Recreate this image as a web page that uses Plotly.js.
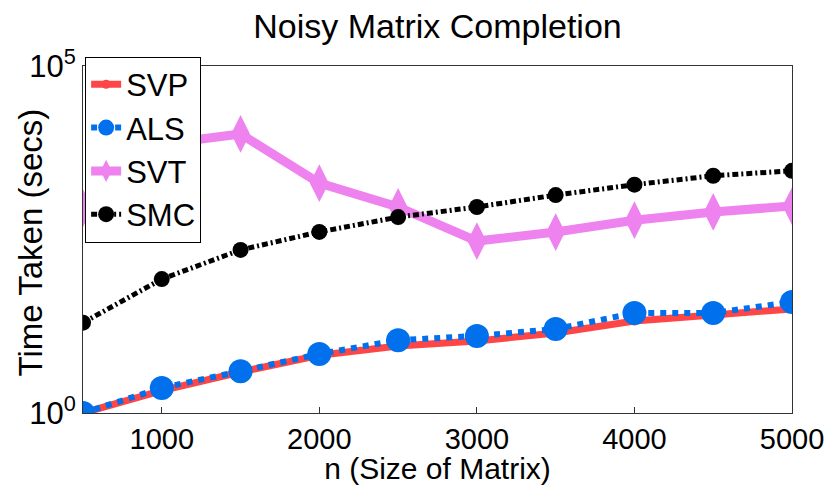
<!DOCTYPE html>
<html>
<head>
<meta charset="utf-8">
<script src="https://cdn.plot.ly/plotly-3.0.1.min.js"></script>
<style>html,body{margin:0;padding:0;background:#fff;}#chart{width:834px;height:485px;}</style>
</head>
<body>
<div id="chart"></div>
<script>
const n = [500, 1000, 1500, 2000, 2500, 3000, 3500, 4000, 4500, 5000];
const svp = [1, 2.1, 3.9, 6.8, 9.2, 10.9, 14.2, 21.2, 25.8, 31.6];
const als = [1, 2.3, 4.0, 7.1, 11.2, 12.9, 16.2, 27.6, 27.6, 39.8];
const svt = [895, 7500, 10500, 2050, 930, 300, 405, 600, 790, 960];
const smc = [20, 85, 224, 407, 665, 930, 1380, 1950, 2620, 3090];
const xTicks = [1000, 2000, 3000, 4000, 5000];
const yTickVals = [1, 100000];
const yTickText = ['10<sup>0</sup>', '10<sup>5</sup>'];

const font = 'Liberation Sans, Arial, sans-serif';
const traces = [
  {x: n, y: svp, name: 'SVP', mode: 'lines+markers', legendgroup: 'a',
   line: {color: '#FF4646', width: 7}, marker: {symbol: 'circle', size: 9, color: '#FF4646'}},
  {x: n, y: als, name: 'ALS', mode: 'lines+markers', legendgroup: 'b',
   line: {color: '#0070EC', width: 6, dash: 'dot'}, marker: {symbol: 'circle', size: 24, color: '#0070EC'}},
  {x: n, y: svt, name: 'SVT', mode: 'lines+markers', legendgroup: 'c',
   line: {color: '#EE82EE', width: 9}, marker: {symbol: 'diamond-tall', size: 27, color: '#EE82EE'}},
  {x: n, y: smc, name: 'SMC', mode: 'lines+markers', legendgroup: 'd',
   line: {color: '#000000', width: 5, dash: '6px,3px,2px,3px'}, marker: {symbol: 'circle', size: 16, color: '#000000'}}
];
const layout = {
  width: 834, height: 485,
  margin: {l: 83, r: 42, t: 66, b: 72},
  paper_bgcolor: '#fff', plot_bgcolor: '#fff',
  font: {family: font, color: '#000', size: 30},
  title: {text: 'Noisy Matrix Completion', font: {family: font, size: 34, color: '#000'},
          x: 0.5, xref: 'paper', xanchor: 'center', y: 1 - 26/485, yref: 'container', yanchor: 'middle'},
  xaxis: {range: [500, 5000], tickvals: xTicks, ticktext: xTicks.map(String),
          ticks: 'inside', ticklen: 6, tickcolor: '#333', showline: true, linecolor: '#333', linewidth: 1,
          mirror: true, showgrid: false, zeroline: false, tickfont: {size: 29},
          title: {text: 'n (Size of Matrix)', font: {size: 30}, standoff: 1}},
  yaxis: {type: 'log', range: [0, 5], tickvals: yTickVals, ticktext: yTickText,
          ticks: '', showline: true, linecolor: '#333', linewidth: 1, mirror: true,
          showgrid: false, zeroline: false, tickfont: {size: 31}},
  annotations: [{text: 'Time Taken (secs)', xref: 'paper', yref: 'paper', x: -0.074, y: 0.49,
                 xanchor: 'center', yanchor: 'middle', textangle: -90, showarrow: false,
                 font: {size: 33, color: '#000', family: font}}],
  legend: {x: 0.003, y: 1.027, xanchor: 'left', yanchor: 'top', bgcolor: '#fff',
           bordercolor: '#000', borderwidth: 1, font: {size: 31}, tracegroupgap: 0},
  showlegend: true
};
Plotly.newPlot('chart', traces, layout, {displayModeBar: false, staticPlot: true});
</script>
</body>
</html>
